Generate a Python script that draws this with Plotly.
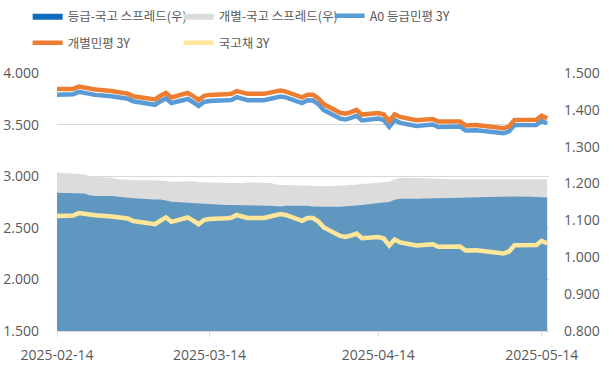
import plotly.graph_objects as go

dates = ["2025-02-14","2025-02-17","2025-02-18","2025-02-19","2025-02-20","2025-02-21",
         "2025-02-24","2025-02-25","2025-02-26","2025-02-27","2025-02-28",
         "2025-03-04","2025-03-05","2025-03-06","2025-03-07",
         "2025-03-10","2025-03-11","2025-03-12","2025-03-13","2025-03-14",
         "2025-03-17","2025-03-18","2025-03-19","2025-03-20","2025-03-21",
         "2025-03-24","2025-03-25","2025-03-26","2025-03-27","2025-03-28",
         "2025-03-31","2025-04-01","2025-04-02","2025-04-03","2025-04-04",
         "2025-04-07","2025-04-08","2025-04-09","2025-04-10","2025-04-11",
         "2025-04-14","2025-04-15","2025-04-16","2025-04-17","2025-04-18",
         "2025-04-21","2025-04-22","2025-04-23","2025-04-24","2025-04-25",
         "2025-04-28","2025-04-29","2025-04-30","2025-05-02",
         "2025-05-07","2025-05-08","2025-05-09",
         "2025-05-12","2025-05-13","2025-05-14","2025-05-15"]

ktb_3y = [2.614,2.619,2.643,2.634,2.629,2.622,
          2.609,2.605,2.600,2.590,2.566,
          2.535,2.570,2.600,2.558,
          2.600,2.570,2.535,2.575,2.585,
          2.593,2.597,2.624,2.605,2.595,
          2.595,2.605,2.616,2.634,2.624,
          2.568,2.595,2.595,2.561,2.503,
          2.421,2.411,2.425,2.445,2.399,
          2.411,2.396,2.328,2.387,2.358,
          2.328,2.333,2.335,2.341,2.316,
          2.321,2.319,2.280,2.283,
          2.252,2.270,2.330,
          2.331,2.333,2.374,2.348]

spread_grade = [1.175,1.174,1.174,1.173,1.168,1.166,
                1.166,1.164,1.162,1.161,1.160,
                1.157,1.157,1.154,1.151,
                1.148,1.147,1.146,1.144,1.143,
                1.142,1.142,1.142,1.142,1.142,
                1.141,1.140,1.139,1.138,1.140,
                1.141,1.140,1.138,1.137,1.137,
                1.137,1.138,1.140,1.141,1.142,
                1.147,1.148,1.150,1.156,1.159,
                1.159,1.160,1.160,1.160,1.160,
                1.161,1.162,1.162,1.163,
                1.164,1.164,1.165,
                1.164,1.164,1.163,1.162]

spread_indiv = [1.230,1.227,1.226,1.225,1.220,1.218,
                1.216,1.212,1.211,1.210,1.209,
                1.209,1.209,1.207,1.205,
                1.207,1.206,1.204,1.203,1.203,
                1.202,1.201,1.200,1.201,1.203,
                1.203,1.202,1.199,1.196,1.196,
                1.196,1.195,1.194,1.193,1.193,
                1.194,1.195,1.196,1.197,1.198,
                1.201,1.202,1.205,1.212,1.216,
                1.215,1.215,1.214,1.214,1.213,
                1.212,1.212,1.212,1.212,
                1.212,1.213,1.214,
                1.214,1.213,1.213,1.212]

a0_3y = [3.789,3.793,3.817,3.807,3.797,3.788,
         3.775,3.769,3.762,3.751,3.726,
         3.692,3.727,3.754,3.709,
         3.748,3.717,3.681,3.719,3.728,
         3.735,3.739,3.766,3.747,3.737,
         3.736,3.745,3.755,3.772,3.764,
         3.709,3.735,3.733,3.698,3.640,
         3.558,3.549,3.565,3.586,3.541,
         3.558,3.544,3.478,3.543,3.517,
         3.487,3.493,3.495,3.501,3.476,
         3.482,3.481,3.442,3.446,
         3.416,3.434,3.495,
         3.495,3.497,3.537,3.510]

indiv_3y = [3.844,3.846,3.869,3.859,3.849,3.840,
            3.825,3.817,3.811,3.800,3.775,
            3.744,3.779,3.807,3.763,
            3.807,3.776,3.739,3.778,3.788,
            3.795,3.798,3.824,3.806,3.798,
            3.798,3.807,3.815,3.830,3.820,
            3.764,3.790,3.789,3.754,3.696,
            3.615,3.606,3.621,3.642,3.597,
            3.612,3.598,3.533,3.599,3.574,
            3.543,3.548,3.549,3.555,3.529,
            3.533,3.531,3.492,3.495,
            3.464,3.483,3.544,
            3.545,3.546,3.587,3.560]

x_ticks = ["2025-02-14","2025-03-14","2025-04-14","2025-05-14"]

names = ["등급-국고 스프레드(우)", "개별-국고 스프레드(우)", "A0 등급민평 3Y", "개별민평 3Y", "국고채 3Y"]

AREA_BLUE = "rgb(96,151,193)"
LEG_BLUE = "rgb(14,108,190)"
GRAY = "rgb(220,220,220)"
LINE_BLUE = "#5b9bd5"
ORANGE = "#ed7d31"
YELLOW = "#ffe699"
TXT = "#595959"

fig = go.Figure()

# spread areas on primary (right) axis so lines overlay on top
fig.add_trace(go.Scatter(x=dates, y=spread_indiv, mode="lines", fill="tozeroy",
                         fillcolor=GRAY, line=dict(width=0, color=GRAY),
                         showlegend=False, yaxis="y"))
fig.add_trace(go.Scatter(x=dates, y=spread_grade, mode="lines", fill="tozeroy",
                         fillcolor=AREA_BLUE, line=dict(width=0, color=AREA_BLUE),
                         showlegend=False, yaxis="y"))

# legend entries for the areas
fig.add_trace(go.Scatter(x=[None], y=[None], mode="lines", fill="tozeroy",
                         fillcolor=LEG_BLUE, line=dict(width=0, color=LEG_BLUE),
                         name=names[0], legend="legend", legendrank=1))
fig.add_trace(go.Scatter(x=[None], y=[None], mode="lines", fill="tozeroy",
                         fillcolor=GRAY, line=dict(width=0, color=GRAY),
                         name=names[1], legend="legend", legendrank=2))

# lines on overlaying left axis
fig.add_trace(go.Scatter(x=dates, y=a0_3y, mode="lines", name=names[2],
                         line=dict(color=LINE_BLUE, width=4.5), yaxis="y2",
                         legend="legend", legendrank=3))
fig.add_trace(go.Scatter(x=dates, y=indiv_3y, mode="lines", name=names[3],
                         line=dict(color=ORANGE, width=4.5), yaxis="y2",
                         legend="legend2", legendrank=1))
fig.add_trace(go.Scatter(x=dates, y=ktb_3y, mode="lines", name=names[4],
                         line=dict(color=YELLOW, width=4.5), yaxis="y2",
                         legend="legend2", legendrank=2))

tick_font = dict(family="Open Sans", size=14, color=TXT)
leg_font = dict(family="Noto Sans CJK KR", size=12.5, color=TXT)

fig.update_layout(
    width=614, height=368,
    margin=dict(l=57, r=65, t=73, b=37, autoexpand=False),
    paper_bgcolor="white", plot_bgcolor="white",
    xaxis=dict(type="date", range=["2025-02-14", "2025-05-15 08:00"],
               tickvals=x_ticks, tickformat="%Y-%m-%d", tickfont=tick_font,
               ticks="outside", ticklen=5, tickcolor="#d9d9d9",
               showline=True, linecolor="#d9d9d9", showgrid=False,
               ticklabelstandoff=6),
    yaxis=dict(side="right", range=[0.8, 1.5], dtick=0.1, tick0=0.8,
               tickformat=".3f", tickfont=tick_font, showgrid=False,
               zeroline=False, ticks="", ticklabelstandoff=14),
    yaxis2=dict(overlaying="y", side="left", range=[1.5, 4.0], dtick=0.5, tick0=1.5,
                tickformat=".3f", tickfont=tick_font, showgrid=True,
                gridcolor="#d9d9d9", gridwidth=1, zeroline=False, ticks="",
                ticklabelstandoff=17),
    legend=dict(orientation="h", xref="container", yref="container",
                x=0.045, y=1 - 16 / 368, xanchor="left", yanchor="middle",
                font=leg_font, entrywidth=106, entrywidthmode="pixels",
                bgcolor="rgba(0,0,0,0)", itemwidth=30),
    legend2=dict(orientation="h", xref="container", yref="container",
                 x=0.045, y=1 - 43 / 368, xanchor="left", yanchor="middle",
                 font=leg_font, entrywidth=106, entrywidthmode="pixels",
                 bgcolor="rgba(0,0,0,0)", itemwidth=30),
)

fig.write_html("out.html",
               config={"displayModeBar": False},
               post_script="document.body.style.margin='0';document.body.style.overflow='hidden';")
